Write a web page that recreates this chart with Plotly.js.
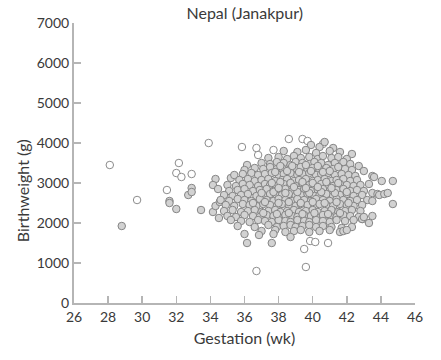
<!DOCTYPE html>
<html>
<head>
<meta charset="utf-8">
<script src="https://cdn.plot.ly/plotly-3.0.1.min.js"></script>
<style>html,body{margin:0;padding:0;background:#fff;}#chart{width:441px;height:360px;}</style>
</head>
<body>
<div id="chart"></div>
<script>
const chartTitle = "Nepal (Janakpur)";
const xTitle = "Gestation (wk)";
const yTitle = "Birthweight (g)";
const xTicks = [26, 28, 30, 32, 34, 36, 38, 40, 42, 44, 46];
const yTicks = [0, 1000, 2000, 3000, 4000, 5000, 6000, 7000];

// Open-circle births
const gestOpen = [28.1, 29.7, 31.45, 32.15, 32.0, 32.3, 32.9, 33.9, 35.85, 36.7, 36.8, 37.7, 38.6, 39.4, 39.7, 40.6,
  36.7, 39.6, 39.5, 39.85, 40.15, 40.9];
const bwOpen = [3450, 2575, 2825, 3500, 3250, 3150, 3225, 4000, 3900, 3875, 3700, 3825, 4100, 4100, 4050, 3975,
  800, 900, 1350, 1550, 1525, 1500];

// Filled-circle births
const gestFilled = [
  28.8, 31.6, 31.6, 32.0, 32.9, 32.7, 32.9, 33.45, 34.3, 34.15, 34.45, 34.15, 34.3, 34.55, 34.5, 35.2, 36.15,
  43.5, 43.6, 43.3, 44.05, 44.7, 43.5, 43.8, 43.9, 44.2, 44.4, 44.7, 42.9, 43.3,
  39.9, 40.4, 40.7, 41.2,
  38.3, 39.1, 39.6, 40.2, 41.0, 41.6, 42.3,
  37.4, 38.0, 38.5, 38.9, 39.3, 39.8, 40.3, 40.6, 41.1, 41.5, 42.0,
  37.0, 37.5, 37.9, 38.3, 38.7, 39.0, 39.4, 39.8, 40.1, 40.5, 40.9, 41.3, 41.8, 42.2, 42.7,
  36.0, 36.6, 37.1, 37.5, 37.9, 38.2, 38.6, 39.0, 39.3, 39.7, 40.0, 40.4, 40.8, 41.2, 41.5, 41.9, 42.3, 43.0,
  35.4, 35.9, 36.4, 36.8, 37.2, 37.6, 38.0, 38.3, 38.7, 39.1, 39.4, 39.8, 40.2, 40.5, 40.9, 41.3, 41.7, 42.1, 42.5,
  35.7, 36.2, 36.6, 37.0, 37.4, 37.8, 38.2, 38.5, 38.9, 39.2, 39.6, 40.0, 40.3, 40.7, 41.1, 41.4, 41.8, 42.2, 42.6,
  35.0, 35.5, 35.9, 36.3, 36.8, 37.2, 37.5, 37.9, 38.3, 38.7, 39.0, 39.4, 39.8, 40.1, 40.5, 40.9, 41.2, 41.6, 42.0, 42.4, 42.8,
  35.1, 35.6, 36.0, 36.5, 36.9, 37.3, 37.7, 38.1, 38.4, 38.8, 39.2, 39.5, 39.9, 40.3, 40.6, 41.0, 41.4, 41.8, 42.2, 42.6, 43.0,
  34.8, 35.3, 35.8, 36.2, 36.7, 37.1, 37.5, 37.9, 38.2, 38.6, 39.0, 39.3, 39.7, 40.1, 40.4, 40.8, 41.2, 41.6, 42.0, 42.4, 42.9,
  34.6, 35.1, 35.6, 36.0, 36.4, 36.9, 37.3, 37.7, 38.0, 38.4, 38.8, 39.1, 39.5, 39.9, 40.2, 40.6, 41.0, 41.4, 41.8, 42.2, 42.6, 43.2, 43.5,
  34.9, 35.4, 35.9, 36.3, 36.7, 37.1, 37.5, 37.9, 38.2, 38.6, 39.0, 39.3, 39.7, 40.1, 40.4, 40.8, 41.2, 41.6, 42.0, 42.4, 42.9,
  34.8, 35.3, 35.8, 36.2, 36.6, 37.0, 37.4, 37.8, 38.1, 38.5, 38.9, 39.2, 39.6, 40.0, 40.3, 40.7, 41.1, 41.5, 41.9, 42.3, 42.8,
  35.0, 35.5, 36.0, 36.5, 36.9, 37.3, 37.7, 38.0, 38.4, 38.8, 39.1, 39.5, 39.9, 40.2, 40.6, 41.0, 41.4, 41.8, 42.2, 42.7, 43.5,
  35.2, 35.8, 36.3, 36.8, 37.2, 37.6, 38.0, 38.4, 38.7, 39.1, 39.5, 39.8, 40.2, 40.6, 41.0, 41.4, 41.9, 42.4, 42.9, 43.0,
  35.6, 36.6, 37.4, 37.9, 38.3, 38.7, 39.0, 39.4, 39.8, 40.2, 40.6, 41.1, 41.7, 42.3,
  37.0, 37.8, 38.4, 38.9, 39.3, 39.8, 40.4, 41.0, 41.6, 41.8, 42.0,
  36.0, 36.15, 36.85, 37.7, 37.6, 38.7,
  37.8, 38.5, 39.2, 39.9, 40.6, 41.0,
  37.6, 38.1, 38.7, 39.4, 40.0, 40.8, 41.5,
  37.0, 37.7, 38.4, 39.1, 39.8, 40.5, 41.3, 42.0,
  36.5, 37.2, 38.0, 38.6, 39.3, 40.0, 40.7, 41.4, 42.1,
  37.1, 37.9, 38.6, 39.4, 40.1, 40.9, 41.6,
  38.0, 38.9, 39.6, 40.3, 41.1,
  38.1, 38.8, 39.6, 40.3
];
const bwFilled = [
  1925, 2550, 2500, 2350, 2875, 2700, 2775, 2325, 3100, 2950, 2850, 2275, 2425, 2525, 2125, 3125, 3450,
  3175, 3150, 2975, 3050, 3050, 2750, 2725, 2700, 2725, 2750, 2475, 2100, 2000,
  3950, 3900, 4025, 3875,
  3800, 3775, 3825, 3750, 3800, 3775, 3725,
  3625, 3650, 3600, 3675, 3625, 3650, 3600, 3675, 3625, 3650, 3600,
  3500, 3475, 3525, 3500, 3450, 3525, 3500, 3475, 3525, 3500, 3450, 3500, 3525, 3475, 3425,
  3325, 3375, 3350, 3400, 3350, 3375, 3325, 3375, 3400, 3350, 3375, 3325, 3375, 3350, 3400, 3350, 3325, 3300,
  3200, 3225, 3250, 3200, 3225, 3250, 3200, 3225, 3250, 3200, 3225, 3250, 3200, 3225, 3250, 3200, 3225, 3200, 3175,
  3075, 3100, 3050, 3075, 3100, 3050, 3075, 3100, 3050, 3075, 3100, 3050, 3075, 3100, 3050, 3075, 3100, 3050, 3075,
  2950, 2925, 2975, 2950, 2925, 2975, 2950, 2925, 2975, 2950, 2925, 2975, 2950, 2925, 2975, 2950, 2925, 2975, 2950, 2925, 2950,
  2800, 2825, 2850, 2800, 2825, 2850, 2800, 2825, 2850, 2800, 2825, 2850, 2800, 2825, 2850, 2800, 2825, 2850, 2800, 2825, 2800,
  2700, 2675, 2700, 2725, 2675, 2700, 2725, 2675, 2700, 2725, 2675, 2700, 2725, 2675, 2700, 2725, 2675, 2700, 2725, 2675, 2700,
  2575, 2550, 2600, 2575, 2550, 2600, 2575, 2550, 2600, 2575, 2550, 2600, 2575, 2550, 2600, 2575, 2550, 2600, 2575, 2550, 2575, 2575, 2550,
  2450, 2425, 2475, 2450, 2425, 2475, 2450, 2425, 2475, 2450, 2425, 2475, 2450, 2425, 2475, 2450, 2425, 2475, 2450, 2425, 2450,
  2300, 2325, 2275, 2300, 2325, 2275, 2300, 2325, 2275, 2300, 2325, 2275, 2300, 2325, 2275, 2300, 2325, 2275, 2300, 2325, 2300,
  2175, 2150, 2200, 2175, 2150, 2200, 2175, 2150, 2200, 2175, 2150, 2200, 2175, 2150, 2200, 2175, 2150, 2200, 2175, 2150, 2175,
  2075, 2050, 2025, 2075, 2050, 2025, 2075, 2050, 2025, 2075, 2050, 2025, 2075, 2050, 2025, 2075, 2050, 2075, 2100, 2150,
  1925, 1900, 1950, 1900, 1925, 1950, 1900, 1925, 1950, 1900, 1925, 1900, 1875, 1900,
  1800, 1825, 1775, 1800, 1825, 1775, 1800, 1825, 1775, 1800, 1825,
  1725, 1500, 1700, 1725, 1500, 1650,
  3275, 3300, 3275, 3300, 3275, 3300,
  3000, 3025, 3000, 3025, 3000, 3025, 3000,
  2750, 2775, 2750, 2775, 2750, 2775, 2750, 2775,
  2500, 2525, 2500, 2525, 2500, 2525, 2500, 2525, 2500,
  2250, 2225, 2250, 2225, 2250, 2225, 2250,
  2875, 2900, 2875, 2900, 2875,
  3425, 3425, 3450, 3425
];

const FONT = "Lato, 'Open Sans', sans-serif";
const TXT = "#3a3a3a";
const AX = "#b5b5b5";

const traces = [
  {x: gestOpen, y: bwOpen, type: "scatter", mode: "markers", hoverinfo: "skip",
   marker: {size: 7.5, color: "#ffffff", line: {color: "#8c8c8c", width: 1}}},
  {x: gestFilled, y: bwFilled, type: "scatter", mode: "markers", hoverinfo: "skip",
   marker: {size: 7.5, color: "#d2d2d2", line: {color: "#858585", width: 1}}}
];

const axisCommon = {
  showgrid: false, zeroline: false, showline: true, linecolor: AX, linewidth: 2,
  ticks: "inside", ticklen: 7, tickwidth: 1.5, tickcolor: AX,
  tickfont: {family: FONT, size: 14, color: TXT}
};

const layout = {
  width: 441, height: 360,
  margin: {l: 74, r: 26, t: 23, b: 57},
  paper_bgcolor: "#fff", plot_bgcolor: "#fff",
  showlegend: false,
  title: {text: chartTitle, font: {family: FONT, size: 16, color: TXT}, x: 0.555, xanchor: "center", y: 0.962, yanchor: "middle"},
  xaxis: Object.assign({}, axisCommon, {
    range: [26, 46], tickvals: xTicks, ticktext: xTicks.map(String),
    title: {text: xTitle, font: {family: FONT, size: 16, color: TXT}, standoff: 9}
  }),
  yaxis: Object.assign({}, axisCommon, {
    range: [0, 7000], tickvals: yTicks, ticktext: yTicks.map(String)
  }),
  annotations: [{
    text: yTitle, xref: "paper", yref: "paper", x: -0.152, y: 0.40,
    xanchor: "center", yanchor: "middle", textangle: -90, showarrow: false,
    font: {family: FONT, size: 16, color: TXT}
  }]
};

Plotly.newPlot("chart", traces, layout, {staticPlot: true, displayModeBar: false});
</script>
</body>
</html>
